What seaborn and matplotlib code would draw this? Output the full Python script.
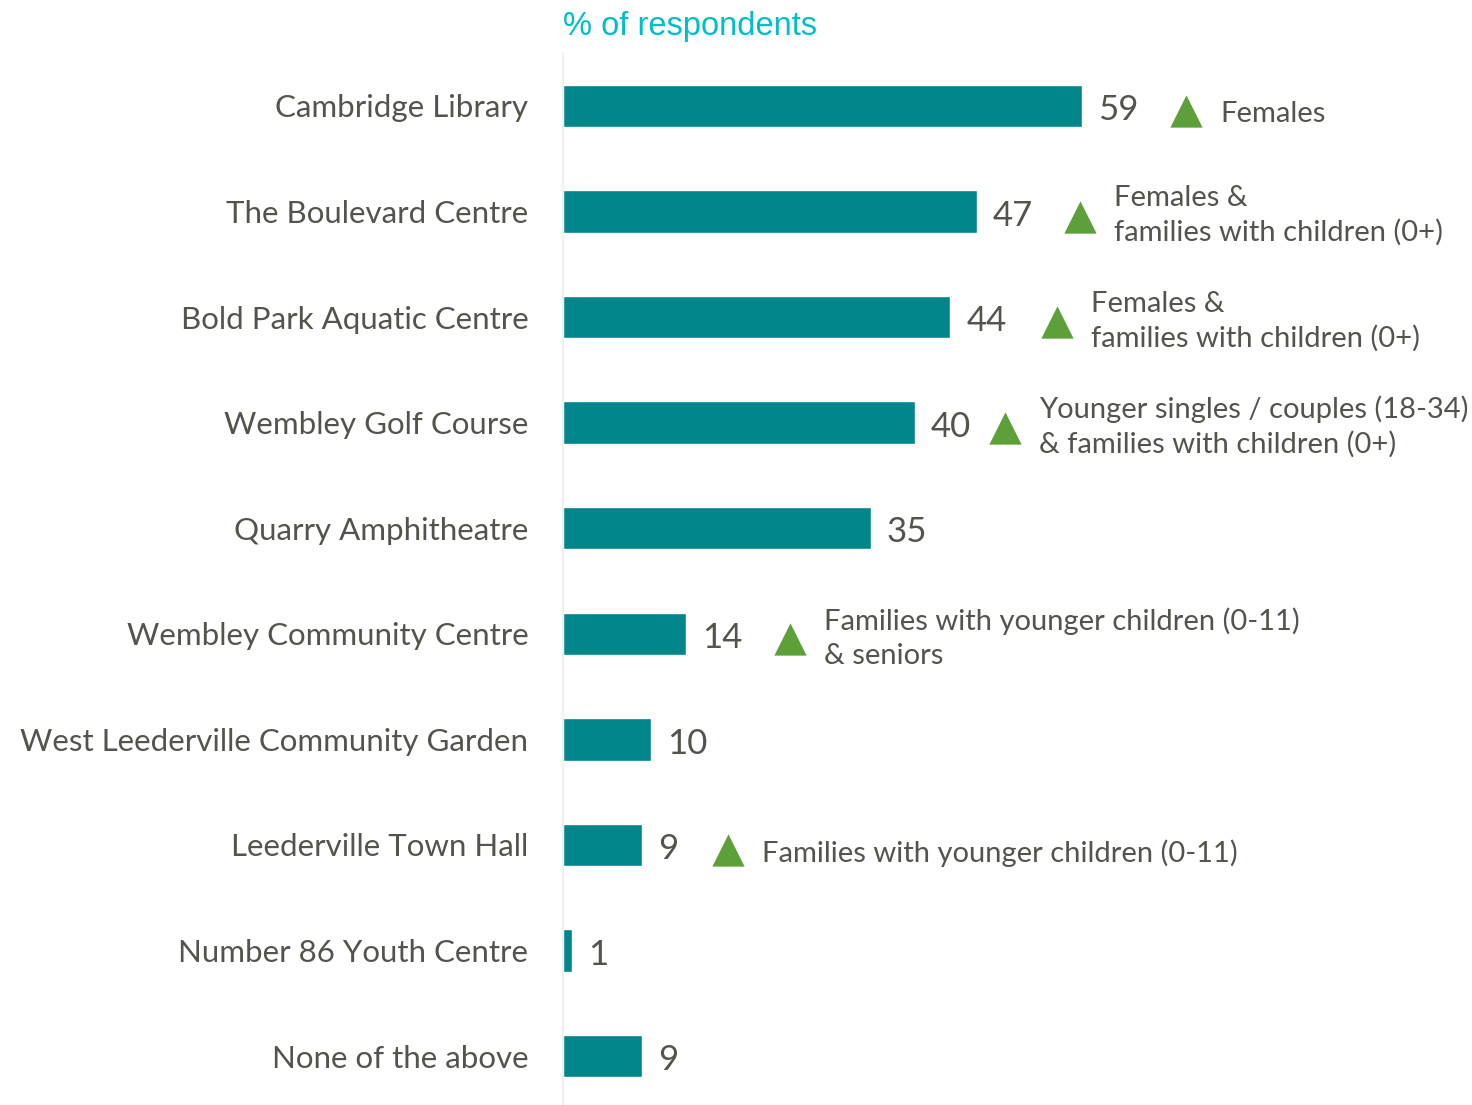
import matplotlib
matplotlib.use("Agg")
import matplotlib.pyplot as plt
import seaborn as sns
import pandas
import numpy as np

# Chart data
venues = [
    "Cambridge Library",
    "The Boulevard Centre",
    "Bold Park Aquatic Centre",
    "Wembley Golf Course",
    "Quarry Amphitheatre",
    "Wembley Community Centre",
    "West Leederville Community Garden",
    "Leederville Town Hall",
    "Number 86 Youth Centre",
    "None of the above",
]
pct = [59, 47, 44, 40, 35, 14, 10, 9, 1, 9]
notes = [
    "Females",
    "Females &\nfamilies with children (0+)",
    "Females &\nfamilies with children (0+)",
    "Younger singles / couples (18-34)\n& families with children (0+)",
    None,
    "Families with younger children (0-11)\n& seniors",
    None,
    "Families with younger children (0-11)",
    None,
    None,
]

BAR = "#00868B"
TEXT = "#54544c"
GREEN = "#5DA03A"
TITLE = "#00BEC8"

sns.set_style("white")
plt.rcParams["font.family"] = ["Lato", "DejaVu Sans"]

W, H = 1472, 1105
fig = plt.figure(figsize=(W / 100, H / 100), dpi=100)
ax_left, ax_top = 563, 53
row_px = 105.6
ax = fig.add_axes([ax_left / W, 1 - (ax_top + 10 * row_px) / H,
                   (W - ax_left) / W, 10 * row_px / H])

df = pandas.DataFrame({"venue": venues, "pct": pct})
sns.barplot(data=df, y="venue", x="pct", orient="h", color=BAR,
            width=0.4, saturation=1, ax=ax)

px_per_unit = 8.8
ax.set_xlim(0, (W - ax_left) / px_per_unit)
ax.set_ylim(9.5, -0.5)
ax.set_xlabel("")
ax.set_ylabel("")
ax.set_xticks([])

for side in ["top", "right", "bottom"]:
    ax.spines[side].set_visible(False)
ax.spines["left"].set_color("#f0f0f0")
ax.spines["left"].set_linewidth(1.5)

ax.tick_params(axis="y", which="major", length=0, pad=25,
               labelsize=22.5, labelcolor=TEXT)
ax.set_yticks(np.arange(-0.5, 10, 1), minor=True)
ax.tick_params(axis="y", which="minor", length=8, width=1.2, color="#eeeeee")

# value labels and subgroup notes
tri_gap = [104, 103, 107, 90, 0, 104, 0, 86, 0, 0]
for i, (v, note) in enumerate(zip(pct, notes)):
    ax.text(v + 16 / px_per_unit, i + 0.04, str(v), va="center", ha="left",
            fontsize=25, color=TEXT)
    if note:
        tx = v + tri_gap[i] / px_per_unit
        ax.scatter([tx], [i + 0.05], marker="^", s=540, color=GREEN,
                   linewidths=0, zorder=3)
        ny = i + 0.08 if "\n" not in note else i + 0.04
        ax.text(tx + 34 / px_per_unit, ny, note, va="center",
                ha="left", fontsize=21, color=TEXT, linespacing=1.36)

fig.text(ax_left / W, 1 - 26 / H, "% of respondents", va="center",
         ha="left", fontsize=23.5, color=TITLE, family="Liberation Sans")

fig.savefig("out.png", dpi=100)
